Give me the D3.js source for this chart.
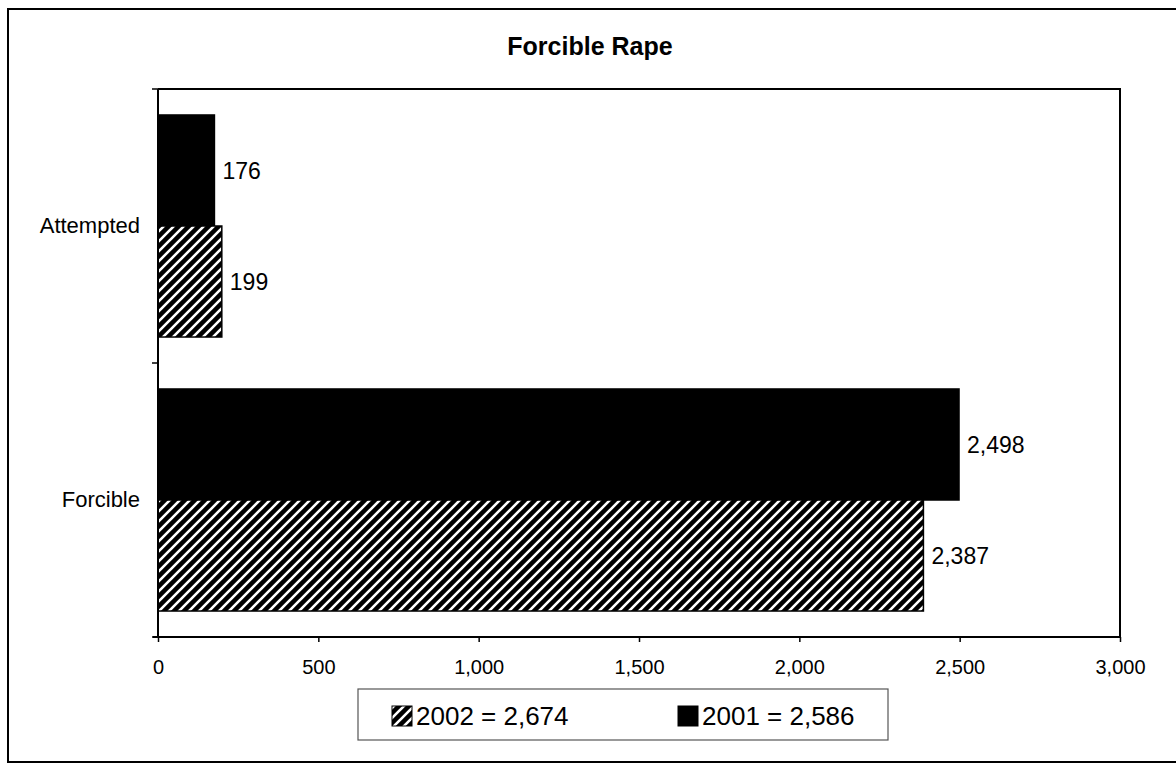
<!DOCTYPE html>
<html>
<head>
<meta charset="utf-8">
<script src="https://cdn.jsdelivr.net/npm/d3@7"></script>
<style>
  html, body { margin: 0; padding: 0; background: #fff; }
  svg { display: block; font-family: "Liberation Sans", Arial, sans-serif; }
</style>
</head>
<body>
<svg id="chart" width="1176" height="765"></svg>
<script>
const title = "Forcible Rape";
const categories = ["Attempted", "Forcible"];
const seriesNames = ["2001", "2002"];
const values2001 = [176, 2498];
const values2002 = [199, 2387];
const xTicks = [0, 500, 1000, 1500, 2000, 2500, 3000];
const legendLabels = ["2002 = 2,674", "2001 = 2,586"];

const svg = d3.select("#chart");
const m = { left: 158, top: 89, right: 1120, bottom: 637 };

// hatch pattern
const defs = svg.append("defs");
const pat = defs.append("pattern")
  .attr("id", "hatch").attr("patternUnits", "userSpaceOnUse")
  .attr("width", 10).attr("height", 10);
pat.append("rect").attr("width", 10).attr("height", 10).attr("fill", "#000");
pat.append("path").attr("d", "M-2,2 L2,-2 M0,10 L10,0 M8,12 L12,8")
  .attr("stroke", "#fff").attr("stroke-width", 2.6);

// outer border
svg.append("rect").attr("x", 8).attr("y", 9).attr("width", 1200).attr("height", 753)
  .attr("fill", "none").attr("stroke", "#000").attr("stroke-width", 2);

// title
svg.append("text").attr("x", 590).attr("y", 55).attr("text-anchor", "middle")
  .attr("font-size", 25).attr("font-weight", "bold").text(title);

const x = d3.scaleLinear().domain([0, 3000]).range([m.left, m.right]);
const y = d3.scaleBand().domain(categories).range([m.top, m.bottom]).padding(0);
const ySub = d3.scaleBand().domain(seriesNames).range([0, y.bandwidth()])
  .paddingInner(0).paddingOuter(0.234);

// plot frame (top and right)
svg.append("path")
  .attr("d", `M${m.left},${m.top}H${m.right}V${m.bottom}`)
  .attr("fill", "none").attr("stroke", "#000").attr("stroke-width", 2);

const data = [];
categories.forEach((c, i) => {
  data.push({ cat: c, s: "2001", v: values2001[i] });
  data.push({ cat: c, s: "2002", v: values2002[i] });
});

svg.append("g").selectAll("rect").data(data).join("rect")
  .attr("x", x(0))
  .attr("y", d => y(d.cat) + ySub(d.s))
  .attr("width", d => x(d.v) - x(0))
  .attr("height", ySub.bandwidth())
  .attr("fill", d => d.s === "2001" ? "#000" : "url(#hatch)")
  .attr("stroke", "#000").attr("stroke-width", 1.5);

svg.append("g").selectAll("text").data(data).join("text")
  .attr("x", d => x(d.v) + 8)
  .attr("y", d => y(d.cat) + ySub(d.s) + ySub.bandwidth() / 2)
  .attr("dy", "0.35em")
  .attr("font-size", 23)
  .text(d => d3.format(",")(d.v));

// x axis
const xAxis = d3.axisBottom(x).tickValues(xTicks).tickFormat(d3.format(",")).tickSize(5).tickPadding(18);
const gx = svg.append("g").attr("transform", `translate(0,${m.bottom})`).call(xAxis);
gx.select(".domain").attr("stroke-width", 2).attr("d", `M${m.left - 5},0H${m.right}`);
gx.selectAll(".tick line").attr("stroke-width", 1.5);
gx.selectAll(".tick text").attr("font-size", 20).attr("font-family", "Liberation Sans, Arial, sans-serif").attr("fill", "#000");

// y axis
const yAxis = d3.axisLeft(y).tickSize(0).tickPadding(18);
const gy = svg.append("g").attr("transform", `translate(${m.left},0)`).call(yAxis);
gy.select(".domain").attr("stroke-width", 2).attr("d", `M0,${m.top}V${m.bottom}`);
gy.selectAll(".tick text").attr("font-size", 22).attr("font-family", "Liberation Sans, Arial, sans-serif").attr("fill", "#000");
// y ticks at category boundaries
const bounds = [m.top].concat(categories.map(c => y(c) + y.bandwidth()));
svg.append("g").selectAll("line").data(bounds).join("line")
  .attr("x1", m.left - 6).attr("x2", m.left)
  .attr("y1", d => d).attr("y2", d => d)
  .attr("stroke", "#000").attr("stroke-width", 1.5);

// legend
const lg = svg.append("g");
lg.append("rect").attr("x", 358).attr("y", 689).attr("width", 530).attr("height", 51)
  .attr("fill", "#fff").attr("stroke", "#555").attr("stroke-width", 1.2);
const items = [
  { fill: "url(#hatch)", label: legendLabels[0], x: 392 },
  { fill: "#000", label: legendLabels[1], x: 678 }
];
items.forEach(it => {
  lg.append("rect").attr("x", it.x).attr("y", 706).attr("width", 20).attr("height", 20)
    .attr("fill", it.fill).attr("stroke", "#000").attr("stroke-width", 1);
  lg.append("text").attr("x", it.x + 24).attr("y", 725).attr("font-size", 26).text(it.label);
});
</script>
</body>
</html>
